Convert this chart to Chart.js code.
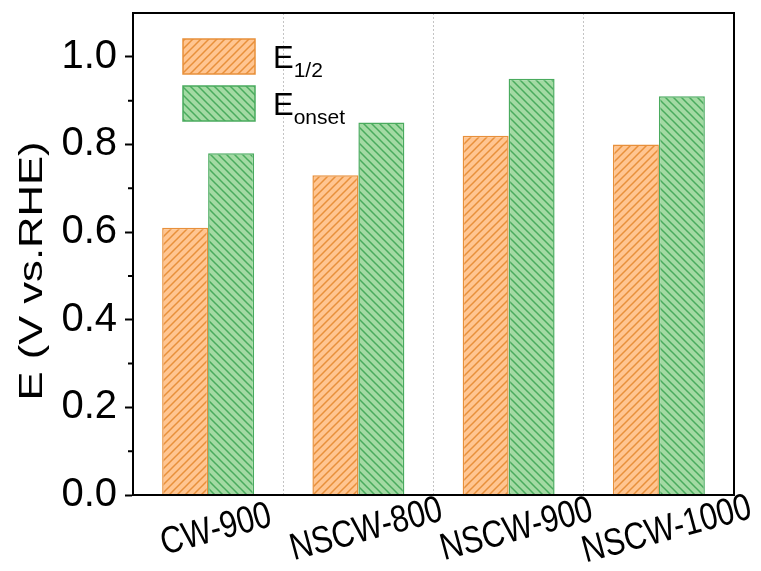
<!DOCTYPE html>
<html>
<head>
<meta charset="utf-8">
<script src="https://cdn.jsdelivr.net/npm/chart.js@4/dist/chart.umd.min.js"></script>
<style>
  html, body { margin: 0; padding: 0; background: #fff; }
</style>
</head>
<body>
<canvas id="grafico" width="761" height="571"></canvas>
<script>
const categorias = ["CW-900", "NSCW-800", "NSCW-900", "NSCW-1000"];
const eMeia = [0.61, 0.73, 0.82, 0.80];
const eOnset = [0.78, 0.85, 0.95, 0.91];
const ticksMenores = [0.1, 0.3, 0.5, 0.7, 0.9];
const legendaSub = ["1/2", "onset"];
const tituloY = "E (V vs.RHE)";

const FONTE = "'Liberation Sans', Arial, sans-serif";

/* hachura diagonal */
function hachura(fundo, linha, dir) {
  const s = 8;
  const c = document.createElement("canvas");
  c.width = s;
  c.height = s;
  const g = c.getContext("2d");
  g.fillStyle = fundo;
  g.fillRect(0, 0, s, s);
  g.strokeStyle = linha;
  g.lineWidth = 1.5;
  g.beginPath();
  if (dir > 0) {
    g.moveTo(-1, s + 1); g.lineTo(s + 1, -1);
    g.moveTo(-1, 1); g.lineTo(1, -1);
    g.moveTo(s - 1, s + 1); g.lineTo(s + 1, s - 1);
  } else {
    g.moveTo(-1, -1); g.lineTo(s + 1, s + 1);
    g.moveTo(s - 1, -1); g.lineTo(s + 1, 1);
    g.moveTo(-1, s - 1); g.lineTo(1, s + 1);
  }
  g.stroke();
  return g.createPattern(c, "repeat");
}

const extras = {
  id: "extras",
  afterDraw(chart) {
    const { ctx, chartArea: a, scales: { x, y } } = chart;
    ctx.save();

    /* moldura */
    ctx.strokeStyle = "#000";
    ctx.lineWidth = 2;
    ctx.strokeRect(a.left, a.top, a.right - a.left, a.bottom - a.top);

    /* ticks menores */
    ctx.beginPath();
    ticksMenores.forEach(v => {
      const py = y.getPixelForValue(v);
      ctx.moveTo(a.left - 5, py);
      ctx.lineTo(a.left, py);
    });
    ctx.stroke();

    /* rótulos do eixo x */
    ctx.fillStyle = "#000";
    ctx.font = "31px " + FONTE;
    ctx.textAlign = "center";
    ctx.textBaseline = "middle";
    categorias.forEach((c, i) => {
      ctx.save();
      ctx.translate(x.getPixelForValue(i) + 8, 530);
      ctx.rotate(-15 * Math.PI / 180);
      ctx.scale(1, 1.22);
      ctx.fillText(c, 0, 0);
      ctx.restore();
    });

    /* título do eixo y */
    ctx.save();
    ctx.translate(33, 271);
    ctx.rotate(-Math.PI / 2);
    ctx.scale(1.32, 1);
    ctx.font = "33px " + FONTE;
    ctx.fillText(tituloY, 0, 0);
    ctx.restore();

    /* legenda */
    ctx.textAlign = "left";
    ctx.textBaseline = "alphabetic";
    chart.data.datasets.forEach((d, i) => {
      const topo = 39 + i * 47;
      ctx.fillStyle = d.backgroundColor;
      ctx.fillRect(183, topo, 72, 35);
      ctx.strokeStyle = d.borderColor;
      ctx.lineWidth = 1.5;
      ctx.strokeRect(183, topo, 72, 35);

      const base = topo + 29;
      ctx.fillStyle = "#000";
      ctx.font = "31px " + FONTE;
      ctx.fillText("E", 273, base);
      const w = ctx.measureText("E").width;
      ctx.font = "21px " + FONTE;
      ctx.fillText(legendaSub[i], 273 + w, base + 9);
    });

    ctx.restore();
  }
};

new Chart(document.getElementById("grafico"), {
  type: "bar",
  data: {
    labels: categorias,
    datasets: [
      {
        label: "E1/2",
        data: eMeia,
        backgroundColor: hachura("#ffc591", "#e8903b", 1),
        borderColor: "#e8903b",
        borderWidth: 1.5
      },
      {
        label: "Eonset",
        data: eOnset,
        backgroundColor: hachura("#a3daa3", "#4aab5e", -1),
        borderColor: "#4aab5e",
        borderWidth: 1.5
      }
    ]
  },
  options: {
    responsive: false,
    animation: false,
    devicePixelRatio: 1,
    categoryPercentage: 0.612,
    barPercentage: 1,
    layout: { padding: { top: 13, right: 27, bottom: 0, left: 0 } },
    plugins: {
      legend: { display: false },
      tooltip: { enabled: false }
    },
    scales: {
      x: {
        afterFit: s => { s.height = 76; s.paddingLeft = 0; s.paddingRight = 0; },
        ticks: { display: false },
        grid: {
          color: "#c4c4c4",
          lineWidth: 1,
          drawTicks: false,
          offset: true
        },
        border: { color: "#000", width: 2, dash: [2, 2] }
      },
      y: {
        min: 0,
        max: 1.1,
        afterFit: s => { s.width = 133; s.paddingTop = 0; s.paddingBottom = 0; },
        ticks: {
          stepSize: 0.2,
          includeBounds: false,
          padding: 8,
          color: "#000",
          font: { family: FONTE, size: 40 },
          callback: v => v.toFixed(1)
        },
        grid: {
          drawOnChartArea: false,
          tickLength: 8,
          tickWidth: 2,
          tickColor: "#000"
        },
        border: { color: "#000", width: 2 }
      }
    }
  },
  plugins: [extras]
});
</script>
</body>
</html>
